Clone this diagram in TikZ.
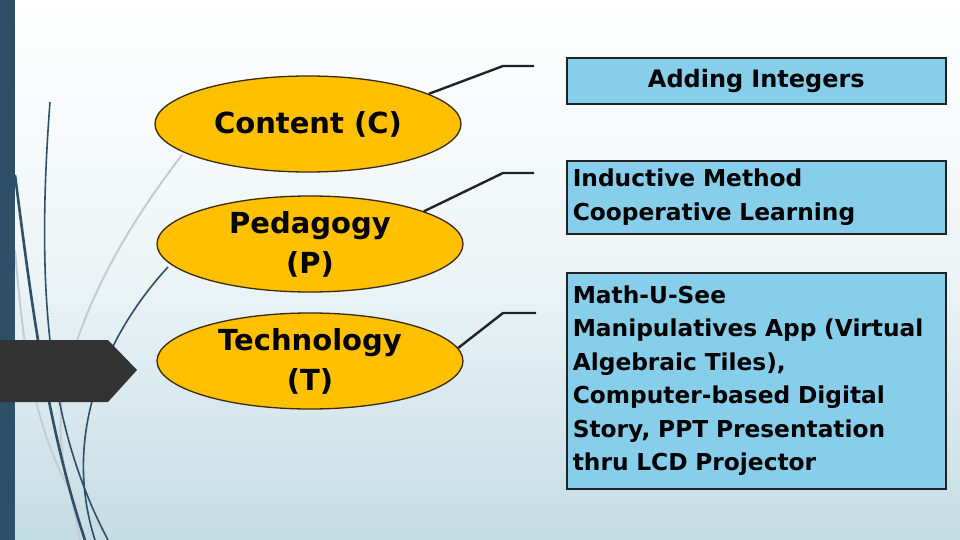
\documentclass[tikz,border=0pt]{standalone}
\usepackage{fontspec}
\setmainfont{DejaVu Sans}
\usetikzlibrary{shapes.geometric}
\definecolor{barcol}{HTML}{2D5068}
\definecolor{arrowgray}{HTML}{333333}
\definecolor{ellfill}{HTML}{FFC000}
\definecolor{ellline}{HTML}{3A2A10}
\definecolor{boxfill}{HTML}{87CEEB}
\definecolor{boxline}{HTML}{222222}
\definecolor{bgbot}{HTML}{C4DCE4}
\definecolor{decodark}{HTML}{2D5068}
\definecolor{decolight}{HTML}{C2CDD2}
\tikzset{
  ellstyle/.style={ellipse, draw=ellline, line width=1.3pt, fill=ellfill,
    minimum width=306pt, minimum height=96pt, inner sep=0pt, align=center,
    font=\bfseries\fontsize{29}{40}\selectfont},
  boxstyle/.style={draw=boxline, line width=1.6pt, fill=boxfill,
    minimum width=379pt, text width=367pt, inner sep=6pt, anchor=north west,
    align=left, font=\bfseries\fontsize{23.3}{33.5}\selectfont},
  conn/.style={draw=boxline, line width=2.4pt},
  decothick/.style={draw=decodark, line width=2.6pt},
  decothin/.style={draw=decodark, line width=1.6pt},
  decolt/.style={draw=decolight, line width=2pt}
}
\begin{document}
\begin{tikzpicture}[x=1pt,y=-1pt]
\useasboundingbox (0,0) rectangle (960,540);
\shade[top color=white, bottom color=bgbot, middle color=white!70!bgbot] (0,0) rectangle (960,540);
% decorative curves
\draw[decolt] (182,155) .. controls (120,235) and (75,320) .. (62,400) .. controls (55,460) and (75,510) .. (85,540);
\draw[decolt] (15,250) .. controls (22,330) and (30,420) .. (70,490) -- (80,540);
\draw[decothick] (15,175) .. controls (30,290) and (45,420) .. (85,540);
\draw[decothin] (50,102) .. controls (35,300) and (50,430) .. (108,540);
\draw[decothin] (168,267) .. controls (110,330) and (60,430) .. (95,540);
% left bar
\fill[barcol] (0,0) rectangle (15,540);
% arrow
\fill[arrowgray] (0,340) -- (108,340) -- (137,370) -- (108,402) -- (0,402) -- cycle;
% ellipses
\node[ellstyle] (cont) at (308,124) {Content (C)};
\node[ellstyle] (ped) at (310,244) {Pedagogy\\(P)};
\node[ellstyle] (tech) at (310,361) {Technology\\(T)};
% boxes
\node[boxstyle, minimum height=46pt, align=center, font=\bfseries\fontsize{24}{30}\selectfont] (b1) at (566,57) {Adding Integers};
\node[boxstyle, minimum height=73pt] (b2) at (566,160) {Inductive Method\\Cooperative Learning};
\node[boxstyle, minimum height=216pt] (b3) at (566,272) {Math-U-See\\Manipulatives App (Virtual\\Algebraic Tiles),\\Computer-based Digital\\Story, PPT Presentation\\thru LCD Projector};
% connectors
\coordinate (k1) at (503,66); \coordinate (e1) at (534,66);
\coordinate (k2) at (503,173); \coordinate (e2) at (534,173);
\coordinate (k3) at (503,313); \coordinate (e3) at (536,313);
\draw[conn] (cont.14) -- (k1) -- (e1);
\draw[conn] (ped.16) -- (k2) -- (e2);
\draw[conn] (tech.5) -- (k3) -- (e3);
\end{tikzpicture}
\end{document}
